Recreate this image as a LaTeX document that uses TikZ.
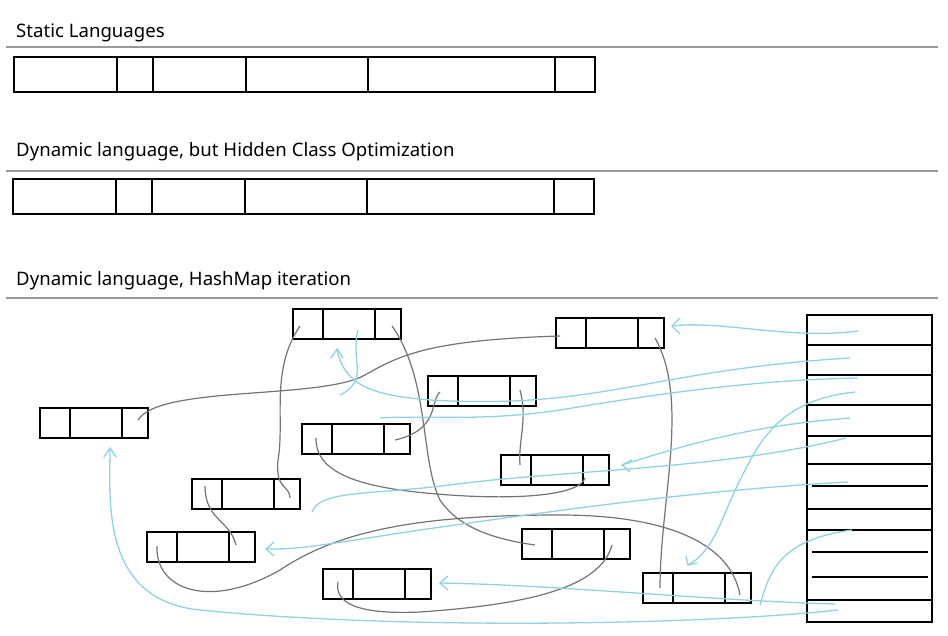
\documentclass[tikz,border=0pt]{standalone}
\usepackage{fontspec}
\setmainfont{Noto Sans}
\definecolor{cy}{HTML}{8ED3E2}
\begin{document}
\begin{tikzpicture}[x=1pt,y=-1pt,
  box/.style={draw=black,line width=2pt},
  sep/.style={draw=gray!80,line width=1.5pt},
  lbl/.style={anchor=west,font=\fontsize{18.6}{21}\selectfont,inner sep=0},
  gline/.style={draw=gray!90!black,line width=1.2pt},
  cline/.style={draw=cy,line width=1.3pt},
  ctip/.style={cline,line cap=round}]
\useasboundingbox (0,0) rectangle (948,635);
\node[lbl] (t1) at (16,33) {Static Languages};
\node[lbl] (t2) at (16,152) {Dynamic language, but Hidden Class Optimization};
\node[lbl] (t3) at (16,281) {Dynamic language, HashMap iteration};
\draw[sep] (6,47) -- (938,47);
\draw[sep] (6,171) -- (938,171);
\draw[sep] (6,298) -- (938,298);
\draw[box] (14,57) rectangle (595,92);
\foreach \x in {117,153,246,368,555} \draw[box] (\x,57) -- (\x,92);
\draw[box] (13,179) rectangle (594,214);
\foreach \x in {116,152,245,367,554} \draw[box] (\x,179) -- (\x,214);
% small boxes
\foreach \n/\x/\y in {A/293/309,B/556/318,C/428/376,D/40/408,E/302/424,F/501/455,G/192/479,H/147/532,I/522/529,J/323/569,K/643/573}{
  \draw[box] (\x,\y) rectangle ++(108,30);
  \draw[box] (\x+30,\y) -- ++(0,30);
  \draw[box] (\x+82,\y) -- ++(0,30);
}
% hash table
\draw[box] (807,315) rectangle (932,622);
\foreach \y in {345,375,405,436,464,509,530,600} \draw[box] (807,\y) -- (932,\y);
\foreach \y in {486,552,577} \draw[box] (812,\y) -- (928,\y);
% gray connectors
\draw[gline] (138,420) .. controls (160,385) and (320,400) .. (365,375) .. controls (400,355) and (430,340) .. (560,336);
\draw[gline] (300,326) .. controls (270,370) and (285,420) .. (278,460) .. controls (275,490) and (290,485) .. (290,498);
\draw[gline] (392,326) .. controls (430,380) and (420,460) .. (440,500) .. controls (460,530) and (500,540) .. (535,545);
\draw[gline] (440,392) .. controls (430,400) and (440,430) .. (395,440);
\draw[gline] (520,390) .. controls (528,420) and (518,440) .. (520,465);
\draw[gline] (316,438) .. controls (315,480) and (380,490) .. (450,495) .. controls (520,500) and (580,495) .. (585,478);
\draw[gline] (205,486) .. controls (205,520) and (230,520) .. (236,545);
\draw[gline] (157,546) .. controls (155,590) and (210,610) .. (280,570) .. controls (340,530) and (420,515) .. (560,515) .. controls (660,515) and (730,540) .. (740,595);
\draw[gline] (655,338) .. controls (690,400) and (660,500) .. (660,588);
\draw[gline] (612,545) .. controls (600,590) and (520,605) .. (420,612) .. controls (350,615) and (335,600) .. (338,582);
% cyan connectors
\draw[cline] (858,331) .. controls (790,340) and (720,320) .. (672,326);
\draw[ctip] (680,318) -- (672,326) -- (680,334);
\draw[cline] (850,358) .. controls (650,370) and (600,410) .. (430,400) .. controls (370,395) and (345,385) .. (337,350);
\draw[ctip] (331,358) -- (337,349) -- (343,358);
\draw[cline] (838,610) .. controls (700,625) and (400,630) .. (200,610) .. controls (100,600) and (110,500) .. (110,448);
\draw[ctip] (104,457) -- (110,448) -- (116,457);
\draw[cline] (858,378) .. controls (750,380) and (650,395) .. (560,410) .. controls (480,422) and (420,415) .. (380,418);
\draw[cline] (850,418) .. controls (760,425) and (700,440) .. (622,465);
\draw[ctip] (632,460) -- (622,465) -- (630,472);
\draw[cline] (846,438) .. controls (720,470) and (560,470) .. (450,485) .. controls (370,495) and (320,490) .. (312,512);
\draw[cline] (848,482) .. controls (700,490) and (560,510) .. (420,530) .. controls (340,542) and (300,550) .. (266,549);
\draw[ctip] (274,542) -- (266,549) -- (274,556);
\draw[cline] (855,392) .. controls (780,400) and (760,440) .. (740,480) .. controls (720,520) and (715,550) .. (688,565);
\draw[ctip] (686,556) -- (688,565) -- (697,563);
\draw[cline] (852,530) .. controls (780,540) and (770,570) .. (760,605);
\draw[cline] (835,604) .. controls (700,600) and (560,585) .. (440,583);
\draw[ctip] (448,576) -- (440,583) -- (448,590);
\draw[cline] (358,330) .. controls (350,360) and (370,380) .. (340,395);
\end{tikzpicture}
\end{document}
